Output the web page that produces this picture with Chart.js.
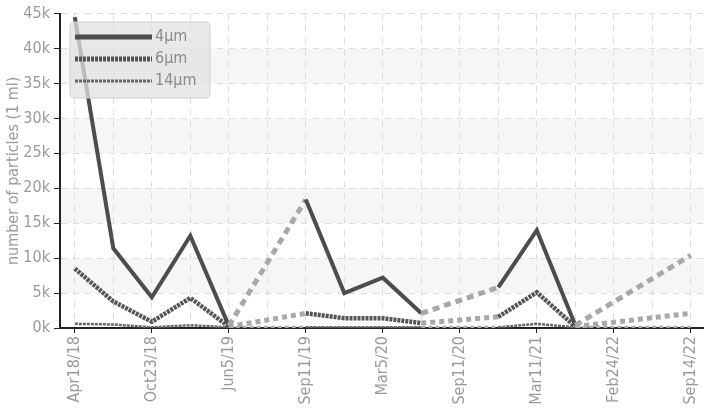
<!DOCTYPE html>
<html>
<head>
<meta charset="utf-8">
<script src="https://cdn.jsdelivr.net/npm/chart.js@4"></script>
<style>
html,body{margin:0;padding:0;background:#fff;}
#wrap{width:713px;height:411px;position:relative;}
</style>
</head>
<body>
<div id="wrap"><canvas id="c" width="713" height="411"></canvas></div>
<script>
const categories = ["Apr18/18","","Oct23/18","","Jun5/19","","Sep11/19","","Mar5/20","","Sep11/20","","Mar11/21","","Feb24/22","","Sep14/22"];
const seriesNames = ["4\u03bcm","6\u03bcm","14\u03bcm"];
const values4 = [44500,11400,4400,13200,300,null,18400,5000,7200,2100,null,5800,14000,400,null,null,10400];
const values6 = [8500,3800,900,4300,200,null,2100,1400,1400,700,null,1600,5100,200,null,null,2100];
const values14 = [600,500,100,400,100,null,100,100,100,100,null,100,600,100,null,null,100];
const yTicks = [0,5000,10000,15000,20000,25000,30000,35000,40000,45000];

const FONT = "'Liberation Sans Narrow','DejaVu Sans Condensed','Roboto Condensed',sans-serif";
const toPts = arr => arr.map((v,i)=>({x:i,y:v}));
const gap = (ctx, val) => (ctx.p0.skip || ctx.p1.skip) ? val : undefined;

function mk(label, data, color, width, dash, gapColor, gapWidth, gapDash){
  return {
    label, data: toPts(data), borderColor: color, borderWidth: width, borderDash: dash,
    pointRadius: 0, fill: false, tension: 0, spanGaps: true,
    segment: {
      borderColor: c => gap(c, gapColor),
      borderWidth: c => gap(c, gapWidth),
      borderDash: c => gap(c, gapDash)
    }
  };
}

const bands = {
  id:'bands',
  beforeDraw(chart){
    const {ctx, chartArea:a, scales:{y}} = chart;
    ctx.save();
    ctx.fillStyle = '#f6f6f6';
    for (let i=0;i<yTicks.length-1;i++){
      if (i%2===1){
        const t = y.getPixelForValue(yTicks[i+1]), b = y.getPixelForValue(yTicks[i]);
        ctx.fillRect(a.left, t, a.right-a.left, b-t);
      }
    }
    ctx.restore();
  }
};

const legendBox = {
  id:'legendBox',
  afterDraw(chart){
    const ctx = chart.ctx;
    ctx.save();
    const x=70,y=22,w=140,h=76,r=5;
    ctx.beginPath();
    ctx.moveTo(x+r,y);ctx.lineTo(x+w-r,y);ctx.quadraticCurveTo(x+w,y,x+w,y+r);
    ctx.lineTo(x+w,y+h-r);ctx.quadraticCurveTo(x+w,y+h,x+w-r,y+h);
    ctx.lineTo(x+r,y+h);ctx.quadraticCurveTo(x,y+h,x,y+h-r);
    ctx.lineTo(x,y+r);ctx.quadraticCurveTo(x,y,x+r,y);ctx.closePath();
    ctx.fillStyle='rgba(225,225,225,0.75)';ctx.fill();
    ctx.strokeStyle='#cfcfcf';ctx.lineWidth=1;ctx.stroke();
    const rows=[37,59,81];
    const widths=[5,5,3];
    chart.data.datasets.forEach((ds,i)=>{
      ctx.beginPath();
      ctx.setLineDash(ds.borderDash||[]);
      ctx.strokeStyle=ds.borderColor;ctx.lineWidth=widths[i];
      ctx.moveTo(75,rows[i]);ctx.lineTo(152,rows[i]);ctx.stroke();
      ctx.setLineDash([]);
      ctx.fillStyle='#8a8a8a';ctx.font='16px '+FONT;ctx.textBaseline='middle';
      ctx.fillText(ds.label,155,rows[i]);
    });
    ctx.restore();
  }
};

new Chart(document.getElementById('c'), {
  type:'line',
  data:{
    datasets:[
      mk(seriesNames[0], values4, '#4d4d4d', 4, [], '#a8a8a8', 5, [7,5]),
      mk(seriesNames[1], values6, '#555555', 4.5, [3,1], '#a8a8a8', 5, [5,4]),
      mk(seriesNames[2], values14, '#666666', 2.5, [3,1], '#aaaaaa', 3, [4,3])
    ]
  },
  options:{
    responsive:false, animation:false,
    layout:{padding:{top:11,right:0,left:0,bottom:0}},
    plugins:{legend:{display:false},tooltip:{enabled:false}},
    scales:{
      x:{
        type:'linear', min:-0.385, max:16.33,
        afterBuildTicks: s => { s.ticks = categories.map((c,i)=>({value:i})); },
        afterFit: s => { s.height = 83; },
        ticks:{
          autoSkip:false, maxRotation:90, minRotation:90, color:'#9a9a9a',
          font:{family:FONT,size:16},
          callback:(v)=> categories[Math.round(v)] || ''
        },
        grid:{color:'#dcdcdc', tickLength:5, tickColor: c => (c.index%2===0 ? '#222':'rgba(0,0,0,0)'), lineWidth:1},
        border:{display:true,color:'#222',width:2,dash:[6,6]}
      },
      y:{
        min:0, max:45000,
        afterBuildTicks: s => { s.ticks = yTicks.map(v=>({value:v})); },
        afterFit: s => { s.width = 60; },
        ticks:{color:'#9a9a9a', font:{family:FONT,size:16}, padding:4, callback:v=> (v/1000)+'k'},
        grid:{color:'#dcdcdc', tickLength:6, tickColor:'#222'},
        border:{display:true,color:'#222',width:2,dash:[6,6]},
        title:{display:true,text:'number of particles (1 ml)',color:'#9a9a9a',font:{family:FONT,size:16},padding:{top:4,bottom:0}}
      }
    }
  },
  plugins:[bands, legendBox]
});
</script>
</body>
</html>
